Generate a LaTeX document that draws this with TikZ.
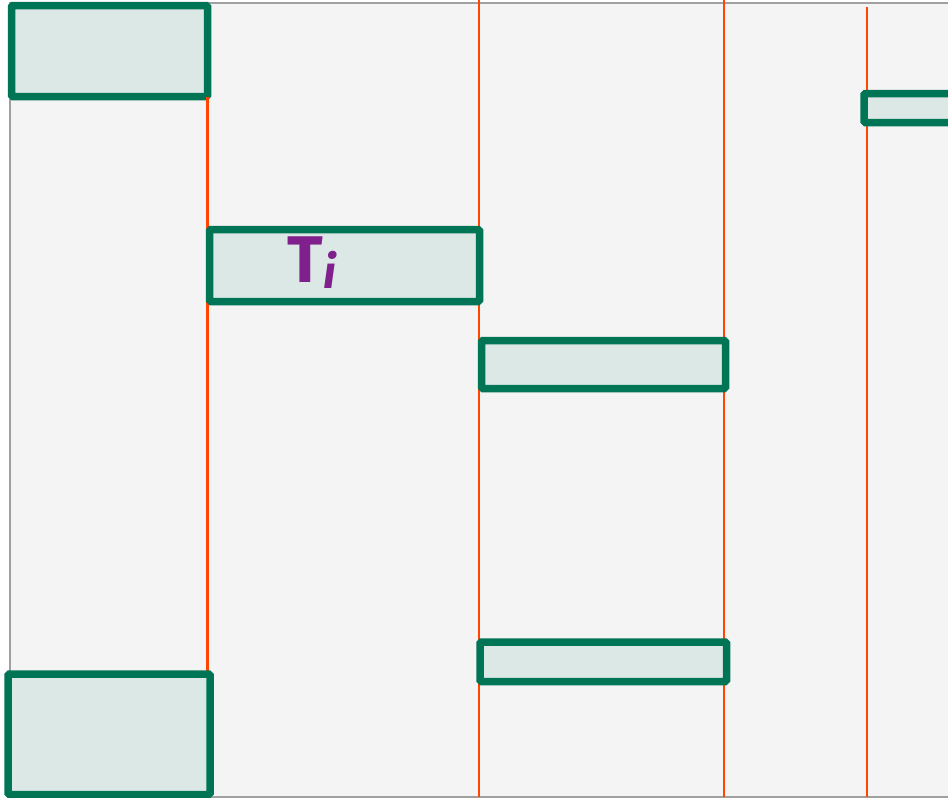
\documentclass[tikz,border=0pt]{standalone}
\usepackage{fontspec}
\newfontfamily\handfont{Fira Sans}
\usepackage{tikz}
\usetikzlibrary{positioning}
\definecolor{slotgreen}{RGB}{0,117,86}
\definecolor{slotfill}{RGB}{220,232,229}
\definecolor{paper}{RGB}{244,244,244}
\definecolor{framegray}{RGB}{160,160,160}
\definecolor{cutred}{RGB}{255,69,0}
\definecolor{taskpurple}{RGB}{128,32,140}

\begin{document}
\begin{tikzpicture}[x=1pt, y=-1pt,
  slot/.style={rectangle, draw=slotgreen, fill=slotfill, line width=7.5pt, rounded corners=1.5pt, inner sep=0pt, outer sep=0pt},
  boundary/.style={draw=cutred, line width=2.2pt},
  tasklabel/.style={text=taskpurple, font=\handfont\bfseries\fontsize{66}{66}\selectfont, inner sep=0pt}
]
  \useasboundingbox (0,0) rectangle (948,798);
  \clip (0,0) rectangle (948,798);
  \fill[paper] (10,3) rectangle (960,797);
  \draw[framegray, line width=2.5pt] (10,3) rectangle (960,797);

  \coordinate (b1) at (207.5,797);
  \coordinate (t2) at (479,0);   \coordinate (b2) at (479,797);
  \coordinate (t3) at (724,0);   \coordinate (b3) at (724,797);
  \coordinate (t4) at (867,7);   \coordinate (b4) at (867,797);

  \draw[boundary] (t2) -- (b2);
  \draw[boundary] (t3) -- (b3);
  \draw[boundary] (t4) -- (b4);

  \node[slot, minimum width=196pt, minimum height=91pt] (first) at (109.5,51) {};
  \draw[boundary] (first.south east) -- (b1);
  \node[slot, minimum width=270pt, minimum height=72pt] (ti) at (344.5,265.5) {};
  \node[slot, minimum width=244pt, minimum height=48pt] (next) at (603.5,364.5) {};
  \node[slot, minimum width=246.5pt, minimum height=39.5pt] (later) at (603.25,661.75) {};
  \node[slot, minimum width=202pt, minimum height=120.5pt] (last) at (109,734.25) {};
  \node[slot, minimum width=200pt, minimum height=29pt, anchor=west] (edge) at (864,108) {};

  \node[tasklabel] (tilabel) at (312,263) {T\raisebox{-6pt}{\fontsize{46}{46}\selectfont\itshape i}};
\end{tikzpicture}
\end{document}
